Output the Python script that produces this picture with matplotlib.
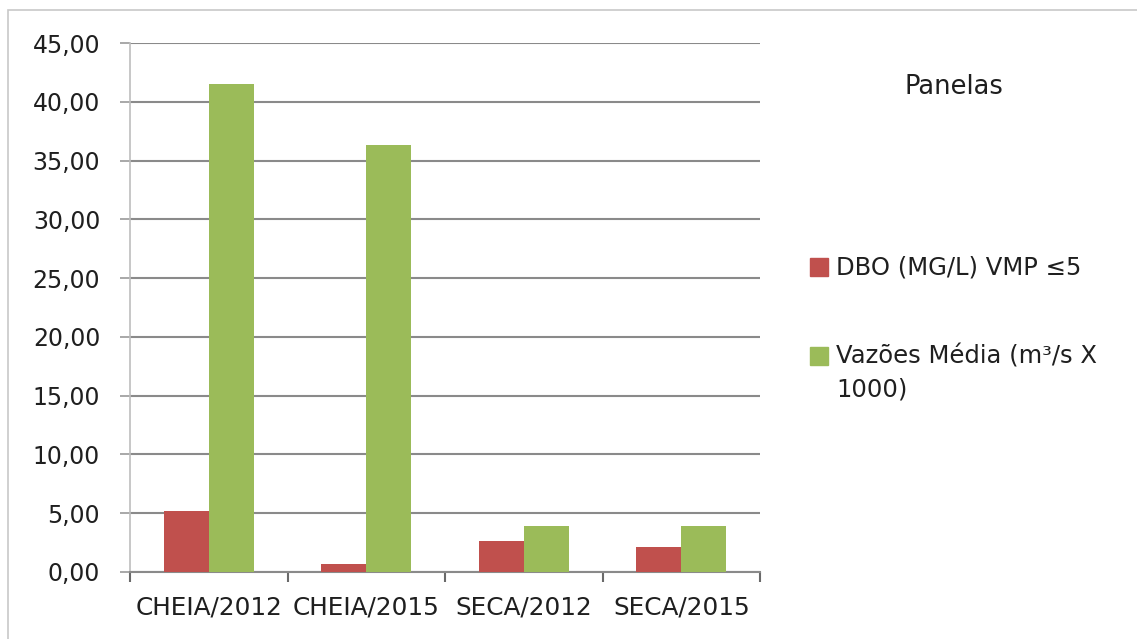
import matplotlib
matplotlib.use("Agg")
import matplotlib.pyplot as plt
from matplotlib.patches import Rectangle
import numpy as np

categories = ["CHEIA/2012", "CHEIA/2015", "SECA/2012", "SECA/2015"]
dbo = [5.2, 0.7, 2.6, 2.1]
vazoes = [41.5, 36.3, 3.95, 3.95]
series_names = ["DBO (MG/L) VMP \u22645", "Vazões Média (m³/s X\n1000)"]
series_colors = ['#c0504d', '#9bbb59']
yticks = [0, 5, 10, 15, 20, 25, 30, 35, 40, 45]
ytick_labels = ["0,00", "5,00", "10,00", "15,00", "20,00", "25,00", "30,00", "35,00", "40,00", "45,00"]

W, H = 1137, 639
fig = plt.figure(figsize=(W / 100, H / 100), dpi=100)
plt.rcParams['font.family'] = ['DejaVu Sans']
txt = '#1f1f1f'
FS = 17

# chart border
fig.patches.append(Rectangle((8 / W, -0.05), 1.1, 1 - 10 / H + 0.05, transform=fig.transFigure,
                             fill=False, edgecolor='#c8c8c8', lw=1.2))

ax = fig.add_axes([130 / W, 1 - 572 / H, (760 - 130) / W, (572 - 43) / H])
x = np.arange(len(categories))
bw = 0.285
ax.bar(x - bw / 2, dbo, bw, color=series_colors[0], label=series_names[0], zorder=3)
ax.bar(x + bw / 2, vazoes, bw, color=series_colors[1], label=series_names[1], zorder=3)

ax.set_xlim(-0.5, len(categories) - 0.5)
ax.set_ylim(0, 45)
ax.set_yticks(yticks)
ax.set_yticklabels(ytick_labels, fontsize=FS, color=txt)
ax.yaxis.grid(True, color='#8a8a8a', lw=1.5, zorder=0)
for s in ['top', 'right']:
    ax.spines[s].set_visible(False)
ax.spines['left'].set_color('#bdbdbd')
ax.spines['left'].set_linewidth(1.2)
ax.spines['bottom'].set_color('#8a8a8a')
ax.spines['bottom'].set_linewidth(1.5)
ax.tick_params(axis='y', length=7.5, color='#9a9a9a', width=1.2, pad=14)

ax.set_xticks(np.arange(-0.5, len(categories), 1.0))
ax.set_xticklabels([])
ax.tick_params(axis='x', which='major', length=7.5, color='#6a6a6a', width=1.5)
ax.set_xticks(x, minor=True)
ax.set_xticklabels(categories, minor=True, fontsize=17.8, color=txt)
ax.tick_params(axis='x', which='minor', length=0, pad=17)

fig.text(954 / W, 1 - 87 / H, "Panelas", fontsize=18.5, color=txt, ha='center', va='center')

# legend drawn manually so each square aligns with the first line of its label
leg_y = [267, 356]
for name, col, yc in zip(series_names, series_colors, leg_y):
    fig.patches.append(Rectangle((810 / W, 1 - (yc + 9) / H), 18 / W, 18 / H,
                                 transform=fig.transFigure, color=col))
    for i, ln in enumerate(name.split("\n")):
        fig.text(836 / W, 1 - (yc + 33 * i) / H, ln, fontsize=17.5, color=txt,
                 ha='left', va='center')

fig.savefig("out.png", dpi=100)
